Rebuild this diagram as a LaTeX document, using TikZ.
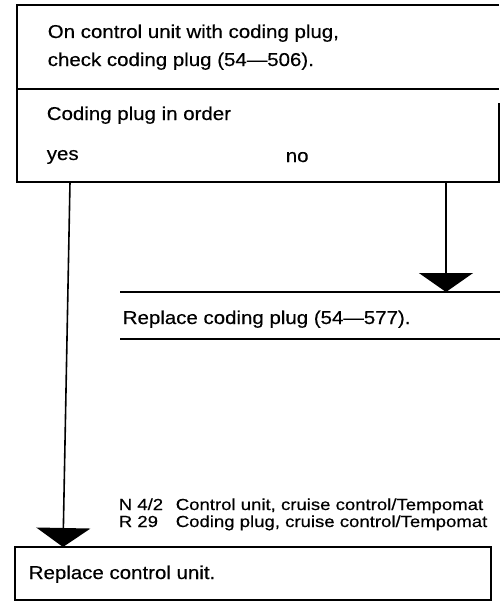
\documentclass[tikz,border=0pt]{standalone}
\usepackage{fontspec}
\setmainfont[FakeStretch=1.1, FakeBold=0.4]{Liberation Sans}
\newfontfamily\legendfont[FakeStretch=1.16, FakeBold=0.4]{Liberation Sans}
\usetikzlibrary{arrows.meta}

\begin{document}
\begin{tikzpicture}[x=0.5pt, y=-0.5pt, line width=0.8pt,
    txt/.style={anchor=base west, inner sep=0pt, font=\fontsize{9.3}{11}\selectfont},
    small/.style={anchor=base west, inner sep=0pt, font=\legendfont\fontsize{8}{9}\selectfont},
    flow/.style={-{Triangle[width=27pt, length=9.5pt]}}]
    \def\lx{17}   % left edge
    \def\rx{499}  % right edge
    \useasboundingbox (0,0) rectangle (500,605);
    % check box
    \draw (\rx,5) -- (\lx,5) -- (\lx,182) -- (\rx,182) -- (\rx,103);
    \draw (\lx,89) -- (\rx,89);
    \node[txt] (check1) at (47,38) {On control unit with coding plug,};
    \node[txt] (check2) at (47,66) {check coding plug (54---506).};
    \node[txt] (ask) at (46,120) {Coding plug in order};
    \node[txt] (yes) at (46,160) {yes};
    \node[txt] (no) at (285,162) {no};
    % replace coding plug
    \draw (120,292) -- (500,292);
    \draw (120,339) -- (500,339);
    \node[txt] (plug) at (122,324) {Replace coding plug (54---577).};
    % legend
    \node[small] (n42) at (118,510) {N 4/2};
    \node[small] (n42t) at (175,510) {Control unit, cruise control/Tempomat};
    \node[small] (r29) at (118,527) {R 29};
    \node[small] (r29t) at (175,527) {Coding plug, cruise control/Tempomat};
    % replace control unit
    \draw (15,547) rectangle (491,600);
    \node[txt] (unit) at (28,579) {Replace control unit.};
    % connectors
    \coordinate (yestop) at (70,182);
    \coordinate (yesend) at (63,547);
    \coordinate (notop) at (446,182);
    \coordinate (noend) at (446,292);
    \draw[flow] (yestop) -- (yesend);
    \draw[flow] (notop) -- (noend);
\end{tikzpicture}
\end{document}
